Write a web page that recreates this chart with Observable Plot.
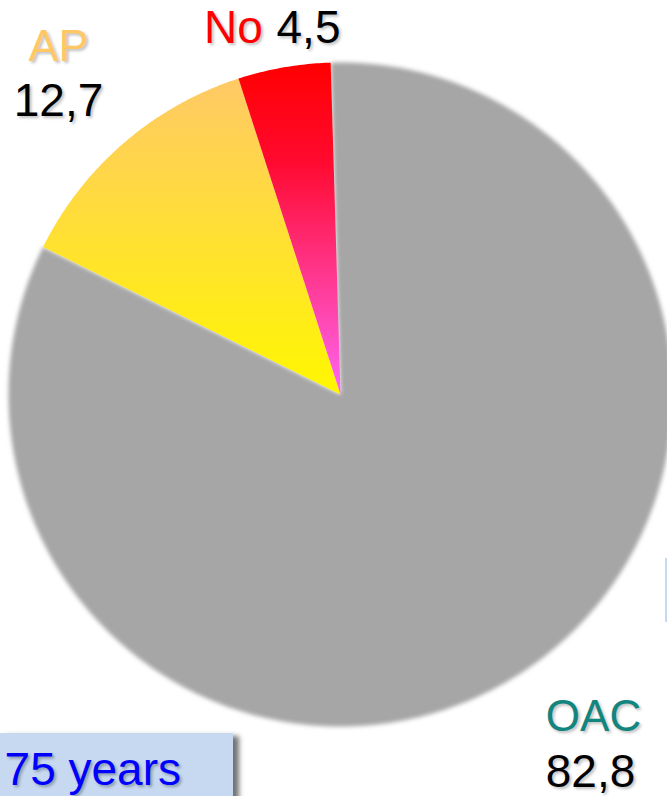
<!DOCTYPE html>
<html>
<head>
<meta charset="utf-8">
<script src="https://cdn.jsdelivr.net/npm/d3@7"></script>
<script src="https://cdn.jsdelivr.net/npm/@observablehq/plot@0.6"></script>
<style>
  html, body { margin: 0; padding: 0; background: #fff; }
  #wrap { position: relative; width: 667px; height: 796px; overflow: hidden; font-family: "Liberation Sans", Arial, sans-serif; }
  #box { position: absolute; left: 0; top: 733px; width: 233px; height: 80px; background: #C6D9F1;
         box-shadow: 6px 3px 5px rgba(0,0,0,0.55); }
  #boxText { position: absolute; left: 0; width: 181px; text-align: right; top: 746px; font-size: 46px; line-height: 46px; color: #0000FF;
             white-space: nowrap; text-shadow: 2px 2px 3px rgba(0,0,0,0.3); }
  #sliver { position: absolute; left: 665px; top: 558px; width: 2px; height: 64px; background: #C6D9F1; }
  svg text { text-shadow: 2px 2px 3px rgba(0,0,0,0.25); }
</style>
</head>
<body>
<div id="wrap">
  <div id="chart"></div>
  <div id="box"></div>
  <div id="boxText">75 years</div>
  <div id="sliver"></div>
</div>
<script>
// ---- data ----
const categories = ["OAC", "AP", "No"];
const values = [82.8, 12.7, 4.5];
const valueLabels = ["82,8", "12,7", "4,5"];
const nameColors = ["#12857F", "#FFC864", "#FF0000"];

// ---- layout ----
const W = 667, H = 796;
const cx = 340, cy = 394, R = 332;
const startDeg = -1.7;

const pie = d3.pie().sort(null)
  .startAngle(startDeg * Math.PI / 180)
  .endAngle(startDeg * Math.PI / 180 + 2 * Math.PI);
const arcs = pie(values);

// polygon points per slice (unit circle), computed from the pie angles
const pts = [];
arcs.forEach((a, i) => {
  const cat = categories[i];
  pts.push({cat, x: 0, y: 0});
  const n = Math.max(2, Math.ceil((a.endAngle - a.startAngle) / (Math.PI / 360)));
  for (let k = 0; k <= n; k++) {
    const t = a.startAngle + (a.endAngle - a.startAngle) * k / n;
    pts.push({cat, x: Math.sin(t), y: Math.cos(t)});
  }
  pts.push({cat, x: 0, y: 0});
});

const fills = {OAC: "#A6A6A6", AP: "url(#gradAP)", No: "url(#gradNo)"};
const sliceMark = (cat) => Plot.line(pts.filter(d => d.cat === cat), {
  x: "x", y: "y", fill: fills[cat], stroke: "none", curve: "linear-closed"
});

const labelFont = "'Liberation Sans', Arial, sans-serif";
const lbl = (text, px, py, size, color) => Plot.text([text], {
  frameAnchor: "top-left", dx: px, dy: py, text: d => d, fontSize: size,
  fill: color, textAnchor: "middle", lineAnchor: "middle", fontFamily: labelFont
});

const plot = Plot.plot({
  width: W, height: H,
  margin: 0,
  style: {background: "transparent", overflow: "visible"},
  x: {domain: [-cx / R, (W - cx) / R], range: [0, W], axis: null},
  y: {domain: [-(H - cy) / R, cy / R], range: [H, 0], axis: null},
  marks: [
    sliceMark("OAC"),
    sliceMark("AP"),
    sliceMark("No"),
    lbl(categories[1], 58, 46, 45, nameColors[1]),
    lbl(valueLabels[1], 58, 101, 46, "#000"),
    lbl(categories[2], 233, 28, 46, nameColors[2]),
    lbl(valueLabels[2], 308, 28, 46, "#000"),
    lbl(categories[0], 593, 716, 44, nameColors[0]),
    lbl(valueLabels[0], 590, 772, 46, "#000")
  ]
});

const svg = d3.select(plot);
const defs = svg.insert("defs", ":first-child");
const gA = defs.append("linearGradient").attr("id", "gradAP")
  .attr("x1", 0).attr("y1", 0).attr("x2", 0).attr("y2", 1);
gA.append("stop").attr("offset", 0).attr("stop-color", "#FFC966");
gA.append("stop").attr("offset", 1).attr("stop-color", "#FFF700");
const gN = defs.append("linearGradient").attr("id", "gradNo")
  .attr("x1", 0).attr("y1", 0).attr("x2", 0).attr("y2", 1);
gN.append("stop").attr("offset", 0).attr("stop-color", "#FF0000");
gN.append("stop").attr("offset", 0.3).attr("stop-color", "#FF0A30");
gN.append("stop").attr("offset", 1).attr("stop-color", "#FF66F2");
const blur = defs.append("filter").attr("id", "soft")
  .attr("x", "-5%").attr("y", "-5%").attr("width", "110%").attr("height", "110%");
blur.append("feGaussianBlur").attr("stdDeviation", 2);
svg.selectAll("[fill='#A6A6A6'], [fill='#a6a6a6']").attr("filter", "url(#soft)");

document.getElementById("chart").appendChild(plot);
</script>
</body>
</html>
